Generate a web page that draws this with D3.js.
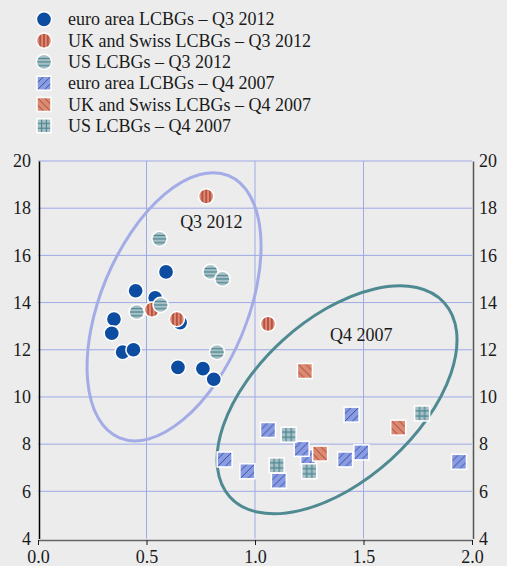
<!DOCTYPE html>
<html>
<head>
<meta charset="utf-8">
<script src="https://cdn.jsdelivr.net/npm/d3@7"></script>
<style>
body { margin: 0; background: #ececec; }
text { font-family: "Liberation Serif", "Times New Roman", serif; }
</style>
</head>
<body>
<div id="chart"></div>
<script>
// series names (legend order = drawing order)
var seriesNames = ["euro area LCBGs \u2013 Q3 2012", "UK and Swiss LCBGs \u2013 Q3 2012", "US LCBGs \u2013 Q3 2012",
                   "euro area LCBGs \u2013 Q4 2007", "UK and Swiss LCBGs \u2013 Q4 2007", "US LCBGs \u2013 Q4 2007"];

// [x, y] values
var euroQ3 = [[0.59, 15.3], [0.45, 14.5], [0.54, 14.2], [0.35, 13.3], [0.34, 12.7], [0.39, 11.9],
              [0.44, 12.0], [0.655, 13.15], [0.645, 11.25], [0.76, 11.2], [0.81, 10.75]];
var ukQ3 = [[0.775, 18.5], [0.525, 13.7], [0.64, 13.3], [1.06, 13.1]];
var usQ3 = [[0.56, 16.7], [0.795, 15.3], [0.85, 15.0], [0.455, 13.6], [0.565, 13.9], [0.825, 11.9]];
var euroQ4 = [[0.86, 7.35], [0.965, 6.85], [1.06, 8.6], [1.11, 6.45], [1.245, 7.45], [1.215, 7.8],
              [1.445, 9.25], [1.415, 7.35], [1.49, 7.65], [1.94, 7.25]];
var ukQ4 = [[1.23, 11.1], [1.30, 7.6], [1.66, 8.7]];
var usQ4 = [[1.155, 8.4], [1.10, 7.1], [1.25, 6.85], [1.77, 9.3]];

var xTicks = [0, 0.5, 1, 1.5, 2];
var yTicks = [4, 6, 8, 10, 12, 14, 16, 18, 20];

// ellipse annotations: centre in data units
var groupLabels = ["Q3 2012", "Q4 2007"];
var labelPos = [[0.655, 17.17], [1.346, 12.38]];
var ellipseCentres = [[0.627, 13.82], [1.378, 9.88]];

var width = 507, height = 566;

var svg = d3.select("#chart").append("svg")
    .attr("width", width)
    .attr("height", height);

svg.append("rect").attr("width", width).attr("height", height).attr("fill", "#ececec");

var x = d3.scaleLinear().domain([0, 2]).range([38, 472]);
var y = d3.scaleLinear().domain([4, 20]).range([538.5, 161]);

// colours
var euroBlue = "#0c4da2", periwinkle = "#8b9de0", lineBlue = "#2444a6";
var salmon = "#d98b73", darkRed = "#a8322a";
var lightTeal = "#a8c0c6", teal = "#4a8690";
var gridColor = "#9ea9e6";

// fill patterns (bounding box units so each marker looks the same)
var defs = svg.append("defs");
function makePattern(id, bg, stroke, lines, sw) {
    var p = defs.append("pattern")
        .attr("id", id)
        .attr("patternUnits", "objectBoundingBox")
        .attr("patternContentUnits", "objectBoundingBox")
        .attr("width", 1).attr("height", 1);
    p.append("rect").attr("width", 1).attr("height", 1).attr("fill", bg);
    lines.forEach(function(l) {
        p.append("line")
            .attr("x1", l[0]).attr("y1", l[1]).attr("x2", l[2]).attr("y2", l[3])
            .attr("stroke", stroke).attr("stroke-width", sw);
    });
}
makePattern("vstripe", salmon, darkRed, [[0.25, 0, 0.25, 1], [0.5, 0, 0.5, 1], [0.75, 0, 0.75, 1]], 0.08);
makePattern("hstripe", lightTeal, teal, [[0, 0.28, 1, 0.28], [0, 0.5, 1, 0.5], [0, 0.74, 1, 0.74]], 0.08);
makePattern("fwdhatch", periwinkle, lineBlue, [[0, 0.5, 0.5, 0], [0, 1, 1, 0], [0.5, 1, 1, 0.5]], 0.06);
makePattern("backhatch", salmon, darkRed, [[0, 0, 1, 1], [0.5, 0, 1, 0.5], [0, 0.5, 0.5, 1]], 0.06);
makePattern("gridfill", lightTeal, teal, [[0.33, 0, 0.33, 1], [0.67, 0, 0.67, 1], [0, 0.33, 1, 0.33], [0, 0.67, 1, 0.67]], 0.08);

var series = [
    {data: euroQ3, shape: "circle", fill: euroBlue},
    {data: ukQ3, shape: "circle", fill: "url(#vstripe)"},
    {data: usQ3, shape: "circle", fill: "url(#hstripe)"},
    {data: euroQ4, shape: "square", fill: "url(#fwdhatch)"},
    {data: ukQ4, shape: "square", fill: "url(#backhatch)"},
    {data: usQ4, shape: "square", fill: "url(#gridfill)"}
];

// grid
svg.append("g").selectAll("line")
    .data(yTicks.slice(1))
    .enter().append("line")
    .attr("x1", x(0)).attr("x2", x(2))
    .attr("y1", function(d) { return y(d); })
    .attr("y2", function(d) { return y(d); })
    .attr("stroke", gridColor).attr("stroke-width", 1);
svg.append("g").selectAll("line")
    .data(xTicks.slice(1, -1))
    .enter().append("line")
    .attr("y1", y(4)).attr("y2", y(20))
    .attr("x1", function(d) { return x(d); })
    .attr("x2", function(d) { return x(d); })
    .attr("stroke", gridColor).attr("stroke-width", 1);

// axes
function styleAxis(g, domainColor) {
    g.attr("font-size", 18)
        .attr("font-family", "'Liberation Serif', 'Times New Roman', serif")
        .attr("color", "#1a1a1a");
    g.select(".domain").attr("stroke", domainColor).attr("stroke-width", 1.5);
}

svg.append("g")
    .attr("transform", "translate(39,0)")
    .call(d3.axisLeft(y).tickValues(yTicks).tickSize(0).tickSizeOuter(0).tickPadding(8))
    .call(styleAxis, "#000");

svg.append("g")
    .attr("transform", "translate(473,0)")
    .call(d3.axisRight(y).tickValues(yTicks).tickSize(0).tickSizeOuter(0).tickPadding(6))
    .call(styleAxis, "#555");

svg.append("g")
    .attr("transform", "translate(0," + (y(4) + 1.5) + ")")
    .call(d3.axisBottom(x).tickValues(xTicks).tickSize(5).tickSizeOuter(0).tickPadding(5)
        .tickFormat(d3.format(".1f")))
    .call(styleAxis, "#666");

// ellipses
var ellipseColors = ["#a3ace6", "#4f8a93"];
var ellipseRadii = [[142, 73.4], [144.6, 80.5]];
var ellipseAngles = [-67.4, -42.2];
svg.append("g").selectAll("ellipse")
    .data(ellipseCentres)
    .enter().append("ellipse")
    .attr("transform", function(d, i) {
        return "translate(" + x(d[0]) + "," + y(d[1]) + ") rotate(" + ellipseAngles[i] + ")";
    })
    .attr("rx", function(d, i) { return ellipseRadii[i][0]; })
    .attr("ry", function(d, i) { return ellipseRadii[i][1]; })
    .attr("fill", "none")
    .attr("stroke", function(d, i) { return ellipseColors[i]; })
    .attr("stroke-width", 3);

// points
var r = 7.6, side = 15;
series.forEach(function(s) {
    var g = svg.append("g");
    if (s.shape === "circle") {
        g.selectAll("circle").data(s.data).enter().append("circle")
            .attr("cx", function(d) { return x(d[0]); })
            .attr("cy", function(d) { return y(d[1]); })
            .attr("r", r)
            .attr("fill", s.fill)
            .attr("stroke", "#fff").attr("stroke-width", 1.5);
    } else {
        g.selectAll("rect").data(s.data).enter().append("rect")
            .attr("x", function(d) { return x(d[0]) - side / 2; })
            .attr("y", function(d) { return y(d[1]) - side / 2; })
            .attr("width", side).attr("height", side)
            .attr("fill", s.fill)
            .attr("stroke", "#fff").attr("stroke-width", 1.5);
    }
});

// ellipse labels
svg.append("g").selectAll("text")
    .data(groupLabels)
    .enter().append("text")
    .attr("x", function(d, i) { return x(labelPos[i][0]); })
    .attr("y", function(d, i) { return y(labelPos[i][1]); })
    .attr("font-size", 18)
    .attr("fill", "#1a1a1a")
    .text(function(d) { return d; });

// legend
var legend = svg.append("g").selectAll("g")
    .data(series)
    .enter().append("g")
    .attr("transform", function(d, i) { return "translate(44," + (19.3 + i * 21.3) + ")"; });

legend.each(function(s, i) {
    var g = d3.select(this);
    if (s.shape === "circle") {
        g.append("circle").attr("r", r).attr("fill", s.fill)
            .attr("stroke", "#fff").attr("stroke-width", 1.5);
    } else {
        g.append("rect").attr("x", -7).attr("y", -7).attr("width", 14).attr("height", 14)
            .attr("fill", s.fill).attr("stroke", "#fff").attr("stroke-width", 1.5);
    }
    g.append("text")
        .attr("x", 24).attr("y", 6)
        .attr("font-size", 18)
        .attr("fill", "#1a1a1a")
        .text(seriesNames[i]);
});
</script>
</body>
</html>
